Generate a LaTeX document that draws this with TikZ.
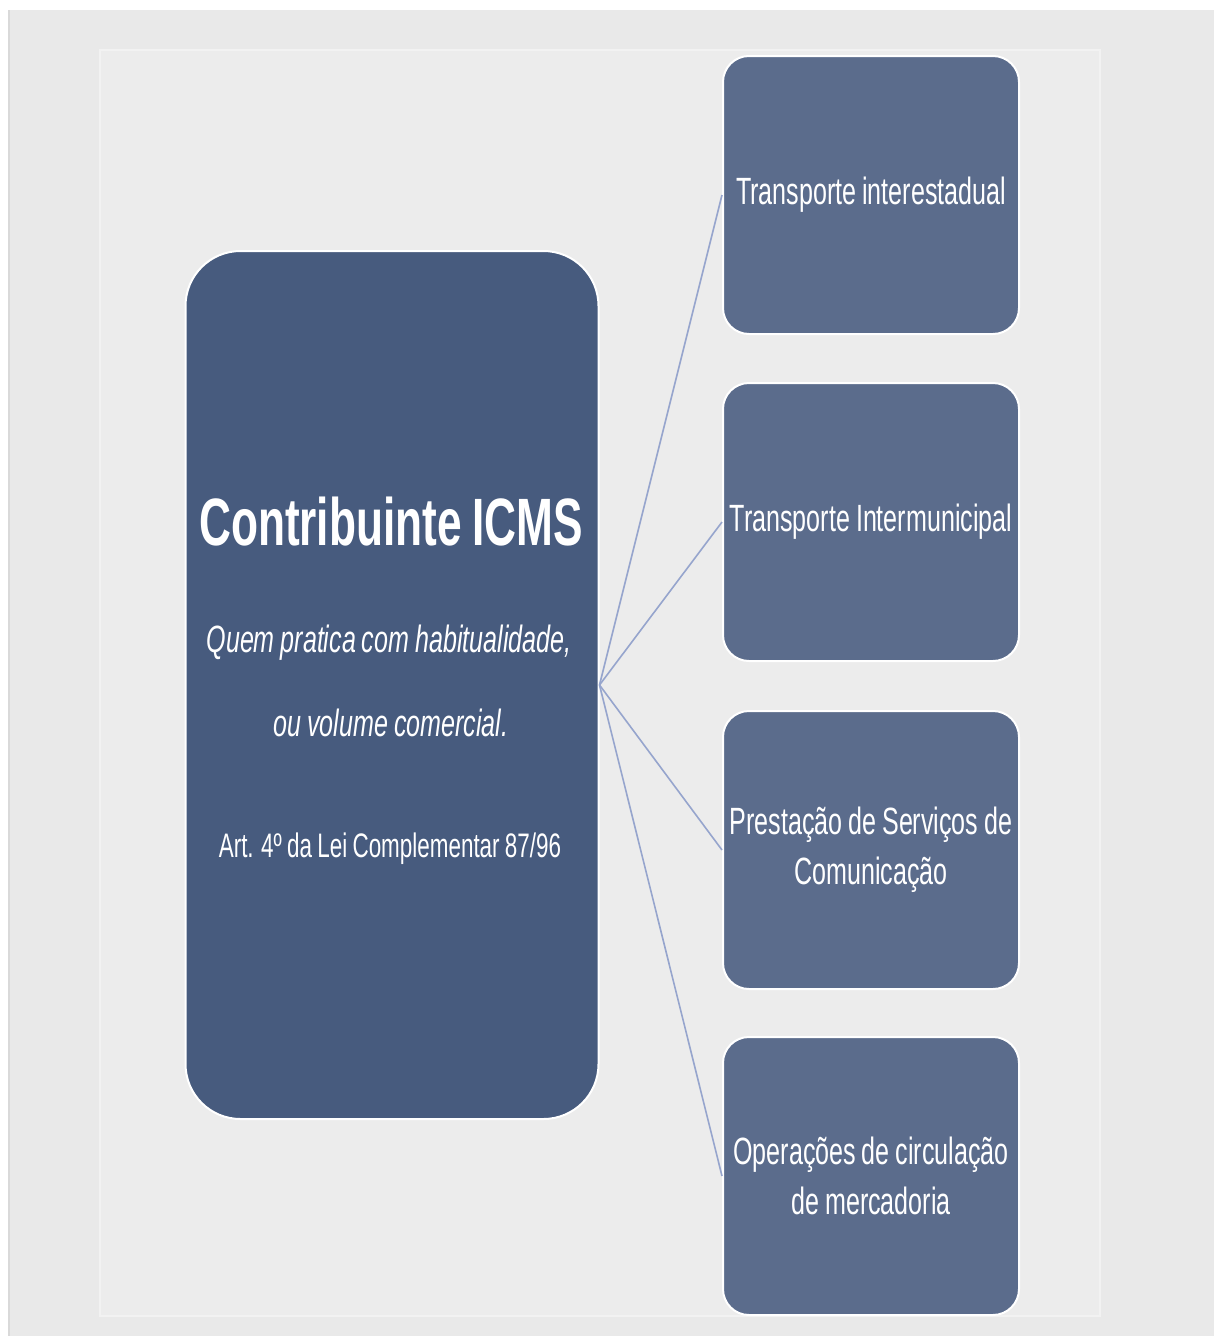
\documentclass[tikz,border=0pt]{standalone}
\usepackage{fontspec}
\setmainfont{Liberation Sans}
\newfontfamily\slimsans[FakeStretch=0.66, WordSpace=0.85]{Liberation Sans}
\definecolor{fundo}{RGB}{233,233,233}
\definecolor{painel}{RGB}{236,236,236}
\definecolor{azulescuro}{RGB}{71,91,126}
\definecolor{azulclaro}{RGB}{91,108,140}
\definecolor{ligacao}{RGB}{150,165,205}
\begin{document}
\begin{tikzpicture}[x=1pt, y=-1pt,
    caixaprincipal/.style={fill=azulescuro, draw=white, line width=2pt,
        rounded corners=55pt, minimum width=413pt, minimum height=868pt},
    caixaitem/.style={fill=azulclaro, draw=white, line width=2pt,
        rounded corners=26pt, minimum width=296pt, minimum height=278pt,
        inner xsep=1pt, align=center, text=white,
        font=\slimsans\fontsize{38}{50}\selectfont},
    texto/.style={anchor=base, text=white, inner sep=0pt},
    ligacao/.style={draw=ligacao, line width=1.6pt}]

        \useasboundingbox (0,0) rectangle (1214,1336);
        \fill[white] (0,0) rectangle (1214,1336);
        \fill[fundo] (10,10) rectangle (1214,1336);
        \draw[black!15, line width=2pt] (9,10) -- (9,1336);
        \draw[fill=painel, draw=white!40!fundo, line width=2pt] (100,50) rectangle (1100,1316);

        \node[caixaprincipal] (contrib) at (392,685) {};
        \node[texto, font=\slimsans\bfseries\fontsize{67}{80}\selectfont] (titulo) at (391,545) {Contribuinte ICMS};
        \node[texto, font=\slimsans\itshape\fontsize{38}{46}\selectfont] (quem) at (389,652) {Quem pratica com habitualidade,};
        \node[texto, font=\slimsans\itshape\fontsize{38}{46}\selectfont] (volume) at (391,736) {ou volume comercial.};
        \node[texto, font=\slimsans\fontsize{34}{40}\selectfont] (art) at (390,857) {Art. 4º da Lei Complementar 87/96};

        \node[caixaitem] (interest) at (871,195) {Transporte interestadual};
        \node[caixaitem] (intermun) at (871,522) {Transporte Intermunicipal};
        \node[caixaitem] (comunic) at (871,850) {Prestação de Serviços de\\Comunicação};
        \node[caixaitem] (mercad) at (871,1176) {Operações de circulação\\de mercadoria};

        \draw[ligacao] (contrib.east) -- (interest.west);
        \draw[ligacao] (contrib.east) -- (intermun.west);
        \draw[ligacao] (contrib.east) -- (comunic.west);
        \draw[ligacao] (contrib.east) -- (mercad.west);

\end{tikzpicture}
\end{document}
